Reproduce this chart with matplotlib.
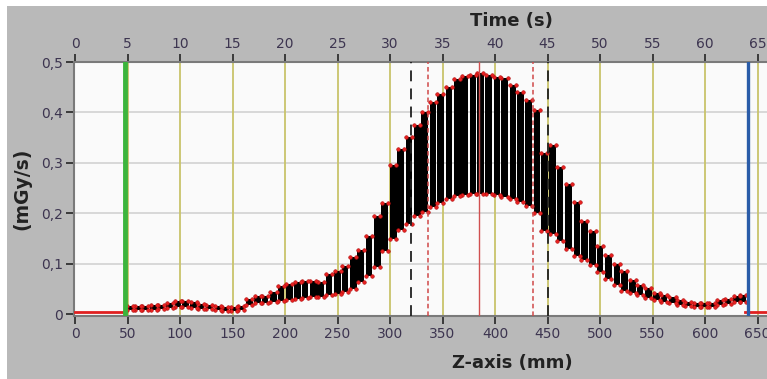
import numpy as np
import matplotlib
matplotlib.use('Agg')
import matplotlib.pyplot as plt
from matplotlib.patches import Rectangle

#--------------------------------------------------#
# Dose rate bars: position (mm), bottom and top (mGy/s)
bar_z = [52, 60, 67, 75, 82, 90, 98, 105, 113, 120, 128, 136, 143, 151, 158,
         166, 174, 181, 189, 196, 204, 212, 219, 227, 234, 242, 250, 257, 265,
         272, 280, 288, 295, 303, 310, 318, 326, 333, 341, 348, 356, 364, 371,
         379, 386, 394, 402, 409, 417, 424, 432, 440, 447, 455, 462, 470, 478,
         485, 493, 500, 508, 516, 523, 531, 538, 546, 554, 561, 569, 576, 584,
         592, 599, 607, 614, 622, 630, 636]
bar_lo = [0.008, 0.008, 0.009, 0.009, 0.010, 0.012, 0.014, 0.015, 0.013, 0.011,
          0.010, 0.008, 0.007, 0.007, 0.008,
          0.018, 0.022, 0.023, 0.025, 0.027, 0.028, 0.030, 0.032, 0.034, 0.035,
          0.038, 0.041, 0.045, 0.051, 0.065, 0.076, 0.095, 0.125, 0.150, 0.168,
          0.180, 0.195, 0.203, 0.212, 0.220, 0.228, 0.234, 0.237, 0.238, 0.238,
          0.238, 0.236, 0.233, 0.228, 0.222, 0.214, 0.200, 0.165, 0.160, 0.146,
          0.130, 0.115, 0.108, 0.098, 0.085, 0.070, 0.058, 0.046, 0.042, 0.038,
          0.032, 0.029, 0.025, 0.022, 0.018, 0.016, 0.014, 0.014, 0.015, 0.018,
          0.020, 0.024, 0.024]
bar_hi = [0.016, 0.017, 0.017, 0.018, 0.018, 0.022, 0.026, 0.027, 0.024, 0.020,
          0.019, 0.016, 0.015, 0.015, 0.016,
          0.030, 0.036, 0.037, 0.045, 0.057, 0.061, 0.065, 0.067, 0.067, 0.065,
          0.081, 0.086, 0.097, 0.114, 0.128, 0.155, 0.195, 0.220, 0.297, 0.327,
          0.352, 0.375, 0.400, 0.420, 0.437, 0.450, 0.466, 0.472, 0.474, 0.478,
          0.474, 0.470, 0.468, 0.455, 0.440, 0.425, 0.405, 0.320, 0.335, 0.293,
          0.258, 0.222, 0.185, 0.165, 0.135, 0.118, 0.100, 0.086, 0.068, 0.058,
          0.052, 0.042, 0.038, 0.035, 0.028, 0.025, 0.022, 0.022, 0.023, 0.028,
          0.031, 0.037, 0.038]

# red baseline before the start and after the end of the scan
base_left_z = [0, 48]
base_right_z = [638, 660]
base_val = 0.004

z_start = 48     # green marker
z_end = 641      # blue marker
z_black = [320, 450]   # black dashed
z_reddot = [336, 436]  # red dotted
z_peak = 385           # red solid

z_ticks = list(range(0, 651, 50))
t_ticks = list(range(0, 66, 5))
y_ticks = [0, 0.1, 0.2, 0.3, 0.4, 0.5]
y_labels = ['0', '0,1', '0,2', '0,3', '0,4', '0,5']
#--------------------------------------------------#

W, H = 767, 379
fig = plt.figure(figsize=(W/100, H/100), dpi=100, facecolor='white')
fig.patches.append(Rectangle((7/W, 0), 1, 1 - 6/H, transform=fig.transFigure,
                             facecolor='#b9b9b9', edgecolor='none', zorder=-5))

ax = fig.add_axes([74/W, 1 - 316/H, 1 - 74/W, (316 - 62)/H])
ax.set_facecolor('#fafafa')

tick_col = '#3d3550'
for y in y_ticks[1:-1]:
    ax.axhline(y, color='#d2d2d2', lw=1.2, zorder=1)
for z in z_ticks[1:]:
    ax.axvline(z, color='#c9c36a', lw=1.3, zorder=1)

ax.plot(base_left_z, [base_val]*2, color='#e02020', lw=2, zorder=3)
ax.plot(base_right_z, [base_val]*2, color='#e02020', lw=2, zorder=3)

heights = np.subtract(bar_hi, bar_lo)
ax.bar(bar_z, heights, bottom=bar_lo, width=6.3, color='black', zorder=3)

w = 2.9
zz = np.concatenate([np.array(bar_z) - w, np.array(bar_z) + w])
ax.plot(zz, np.concatenate([bar_hi, bar_hi]), 'o', ms=2.6, color='#e82020',
        mec='#b01010', mew=0.4, zorder=4)
ax.plot(zz, np.concatenate([bar_lo, bar_lo]), 'o', ms=2.6, color='#e82020',
        mec='#b01010', mew=0.4, zorder=4)

ax.axvline(z_start, color='#3cb43c', lw=3.5, zorder=5)
ax.axvline(z_end, color='#2a5ca8', lw=2.4, zorder=5)
for z in z_black:
    ax.axvline(z, color='#202020', lw=1.3, ls=(0, (6, 4)), zorder=5)
for z in z_reddot:
    ax.axvline(z, color='#d04848', lw=1.1, ls=(0, (3, 2)), zorder=5)
ax.axvline(z_peak, color='#d05050', lw=1.0, zorder=5)

ax.set_xlim(-1, 659)
ax.set_ylim(-0.003, 0.5)

ax.set_xticks(z_ticks)
ax.set_yticks(y_ticks)
ax.set_yticklabels(y_labels)
ax.tick_params(axis='both', direction='out', length=6, width=1.3, color='#303030',
               labelcolor=tick_col, labelsize=10, pad=2)

for s in ['left', 'top', 'bottom']:
    ax.spines[s].set_color('#7a7a7a')
    ax.spines[s].set_linewidth(1.5)
ax.spines['right'].set_visible(False)

top = ax.secondary_xaxis('top', functions=(lambda z: z/10, lambda t: t*10))
top.set_xticks(t_ticks)
top.tick_params(direction='out', length=6, width=1.3, color='#303030',
                labelcolor=tick_col, labelsize=10, pad=2)
top.spines['top'].set_visible(False)

fig.text(511/W, 1 - 21/H, 'Time (s)', fontsize=13, fontweight='bold',
         color='#222222', ha='center', va='center')
fig.text(512/W, 1 - 363/H, 'Z-axis (mm)', fontsize=13, fontweight='bold',
         color='#222222', ha='center', va='center')
fig.text(22/W, 1 - 189/H, '(mGy/s)', fontsize=13.5, fontweight='bold',
         color='#222222', ha='center', va='center', rotation=90)

fig.savefig('out.png', dpi=100)
